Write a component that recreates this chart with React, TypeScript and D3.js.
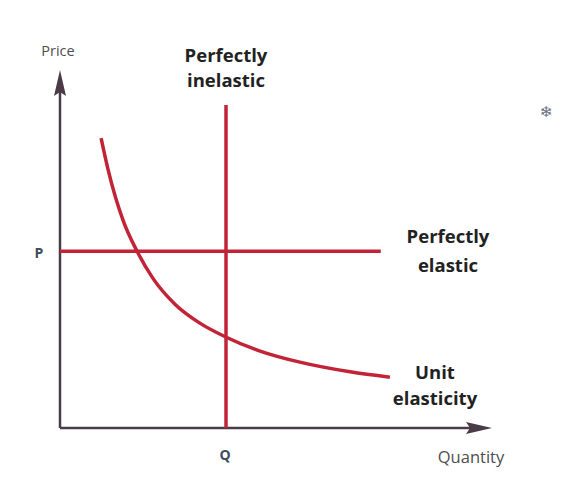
import React from 'react';
import * as d3 from 'd3';

// demand curve (unit elasticity), in chart units
const curveQuantity = [0.99, 1.16, 1.52, 1.86, 2.24, 2.77, 3.37, 3.98, 4.82, 5.78, 6.99, 7.95];
const curvePrice = [8.1, 7.21, 5.8, 4.93, 4.18, 3.46, 2.93, 2.55, 2.15, 1.84, 1.57, 1.42];

const priceP = 4.94;
const quantityQ = 4.0;
const elasticEnd = 7.73; // where the flat line stops
const inelasticTop = 9.02; // top of the vertical line
const axisEnds = { x: 10.41, y: 10.0 };

const labels = {
  inelastic: ['Perfectly', 'inelastic'],
  elastic: ['Perfectly', 'elastic'],
  unit: ['Unit', 'elasticity'],
};

const W = 564;
const H = 490;
const red = '#c22437';
const axisColor = '#4b3b48';
const font = '"Open Sans", "Noto Sans", sans-serif';

const App: React.FC = () => {
  const x = d3.scaleLinear().domain([0, 10]).range([60, 475]);
  const y = d3.scaleLinear().domain([0, 10]).range([428, 70]);

  const pts: [number, number][] = curveQuantity.map((q, i) => [q, curvePrice[i]]);
  const line = d3
    .line<[number, number]>()
    .x(d => x(d[0]))
    .y(d => y(d[1]))
    .curve(d3.curveMonotoneX);

  const x0 = x(0);
  const y0 = y(0);
  const xTip = x(axisEnds.x);
  const yTip = y(axisEnds.y);

  return (
    <svg width={W} height={H} style={{ position: 'absolute', left: 0, top: 0 }}>
      <rect width={W} height={H} fill="#fff" />

      {/* axes */}
      <line x1={x0} y1={y0} x2={x0} y2={yTip + 20} stroke={axisColor} strokeWidth={2.5} />
      <line x1={x0} y1={y0} x2={xTip - 20} y2={y0} stroke={axisColor} strokeWidth={2.5} />
      <path d={`M${x0},${yTip} L${x0 + 6},${yTip + 26} L${x0},${yTip + 22} L${x0 - 6},${yTip + 26} Z`} fill={axisColor} />
      <path d={`M${xTip},${y0} L${xTip - 26},${y0 - 6} L${xTip - 22},${y0} L${xTip - 26},${y0 + 6} Z`} fill={axisColor} />

      {/* perfectly elastic / inelastic */}
      <line x1={x0} y1={y(priceP)} x2={x(elasticEnd)} y2={y(priceP)} stroke={red} strokeWidth={3.5} />
      <line x1={x(quantityQ)} y1={y(inelasticTop)} x2={x(quantityQ)} y2={y0} stroke={red} strokeWidth={3.5} />

      {/* unit elasticity curve */}
      <path d={line(pts) || ''} fill="none" stroke={red} strokeWidth={3.5} strokeLinecap="butt" />

      {/* axis labels */}
      <text x={58} y={56} textAnchor="middle" fontFamily={font} fontSize={14.5} fill="#4e4e4e">Price</text>
      <text x={471} y={463} textAnchor="middle" fontFamily={font} fontSize={16.5} fill="#4e4e4e">Quantity</text>
      <text x={39} y={258} textAnchor="middle" fontFamily={font} fontSize={14} fontWeight="bold" fill="#3e4a5e">P</text>
      <text x={x(quantityQ) - 1} y={460} textAnchor="middle" fontFamily={font} fontSize={14} fontWeight="bold" fill="#3e4a5e">Q</text>

      {/* curve labels */}
      {labels.inelastic.map((t, i) => (
        <text key={'in' + i} x={226} y={62 + i * 25} textAnchor="middle" fontFamily={font} fontSize={18.5} fontWeight="bold" fill="#222">{t}</text>
      ))}
      {labels.elastic.map((t, i) => (
        <text key={'el' + i} x={448} y={243 + i * 29} textAnchor="middle" fontFamily={font} fontSize={18.5} fontWeight="bold" fill="#222">{t}</text>
      ))}
      {labels.unit.map((t, i) => (
        <text key={'un' + i} x={435} y={379 + i * 26} textAnchor="middle" fontFamily={font} fontSize={18.5} fontWeight="bold" fill="#222">{t}</text>
      ))}

      <text x={546} y={117} textAnchor="middle" fontFamily="DejaVu Sans" fontSize={15} fill="#6a7080">❄</text>
    </svg>
  );
};

export default App;
